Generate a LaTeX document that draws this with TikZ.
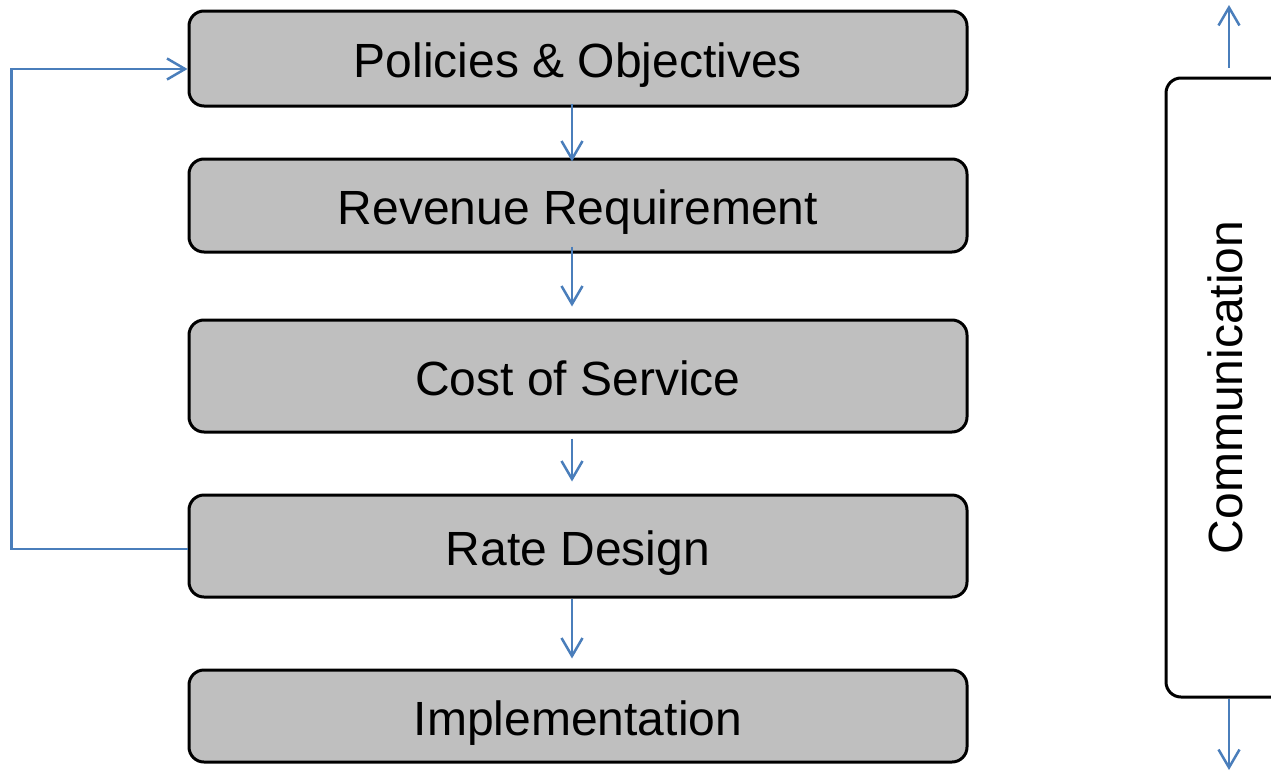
\documentclass[tikz,border=0pt]{standalone}
\usepackage{fontspec}
\setmainfont{Liberation Sans}
\usetikzlibrary{arrows.meta,calc}
\definecolor{boxgray}{HTML}{BFBFBF}
\definecolor{arrowblue}{HTML}{4A7EBB}
\begin{document}
\begin{tikzpicture}[x=1pt,y=-1pt,
  stage/.style={draw=black, line width=3pt, fill=boxgray, rounded corners=15pt,
    minimum width=778pt, inner sep=0pt, text height=44pt, text depth=6pt,
    font=\fontsize{48}{57}\selectfont},
  sidebox/.style={draw=black, line width=3pt, fill=white, rounded corners=15pt,
    minimum width=126pt, minimum height=619pt, inner sep=0pt, font=\fontsize{48}{57}\selectfont},
  flow/.style={draw=arrowblue, line width=2.5pt, -{Straight Barb[length=18pt,width=21pt,line width=2.5pt]}}
]
\clip (0,0) rectangle (1271,771);
\node[stage, minimum height=95pt] (b1) at (578,58.5) {Policies \& Objectives};
\node[stage, minimum height=93pt] (b2) at (578,205.5) {Revenue Requirement};
\node[stage, minimum height=112pt] (b3) at (578,376) {Cost of Service};
\node[stage, minimum height=102pt] (b4) at (578,546) {Rate Design};
\node[stage, minimum height=92pt] (b5) at (578,716) {Implementation};

\draw[flow] ($(b1.south)+(-6,-4)$) -- ($(b2.north)+(-6,4)$);
\draw[flow] ($(b2.south)+(-6,-7)$) -- ($(b3.north)+(-6,-12)$);
\draw[flow] ($(b3.south)+(-6,5)$) -- ($(b4.north)+(-6,-12)$);
\draw[flow] ($(b4.south)+(-6,0)$) -- ($(b5.north)+(-6,-10)$);

\draw[flow] ($(b4.west)+(0,3)$) -- ++(-176,0) |- ($(b1.west)+(0,10.5)$);

\node[sidebox] (comm) at (1229,387.5) {\hspace*{-8pt}\rotatebox{90}{Communication}};
\coordinate (topend) at (1229,5);
\coordinate (botend) at (1229,770);
\draw[flow] ($(comm.north)+(0,-9)$) -- (topend);
\draw[flow] (comm.south) -- (botend);
\end{tikzpicture}
\end{document}
